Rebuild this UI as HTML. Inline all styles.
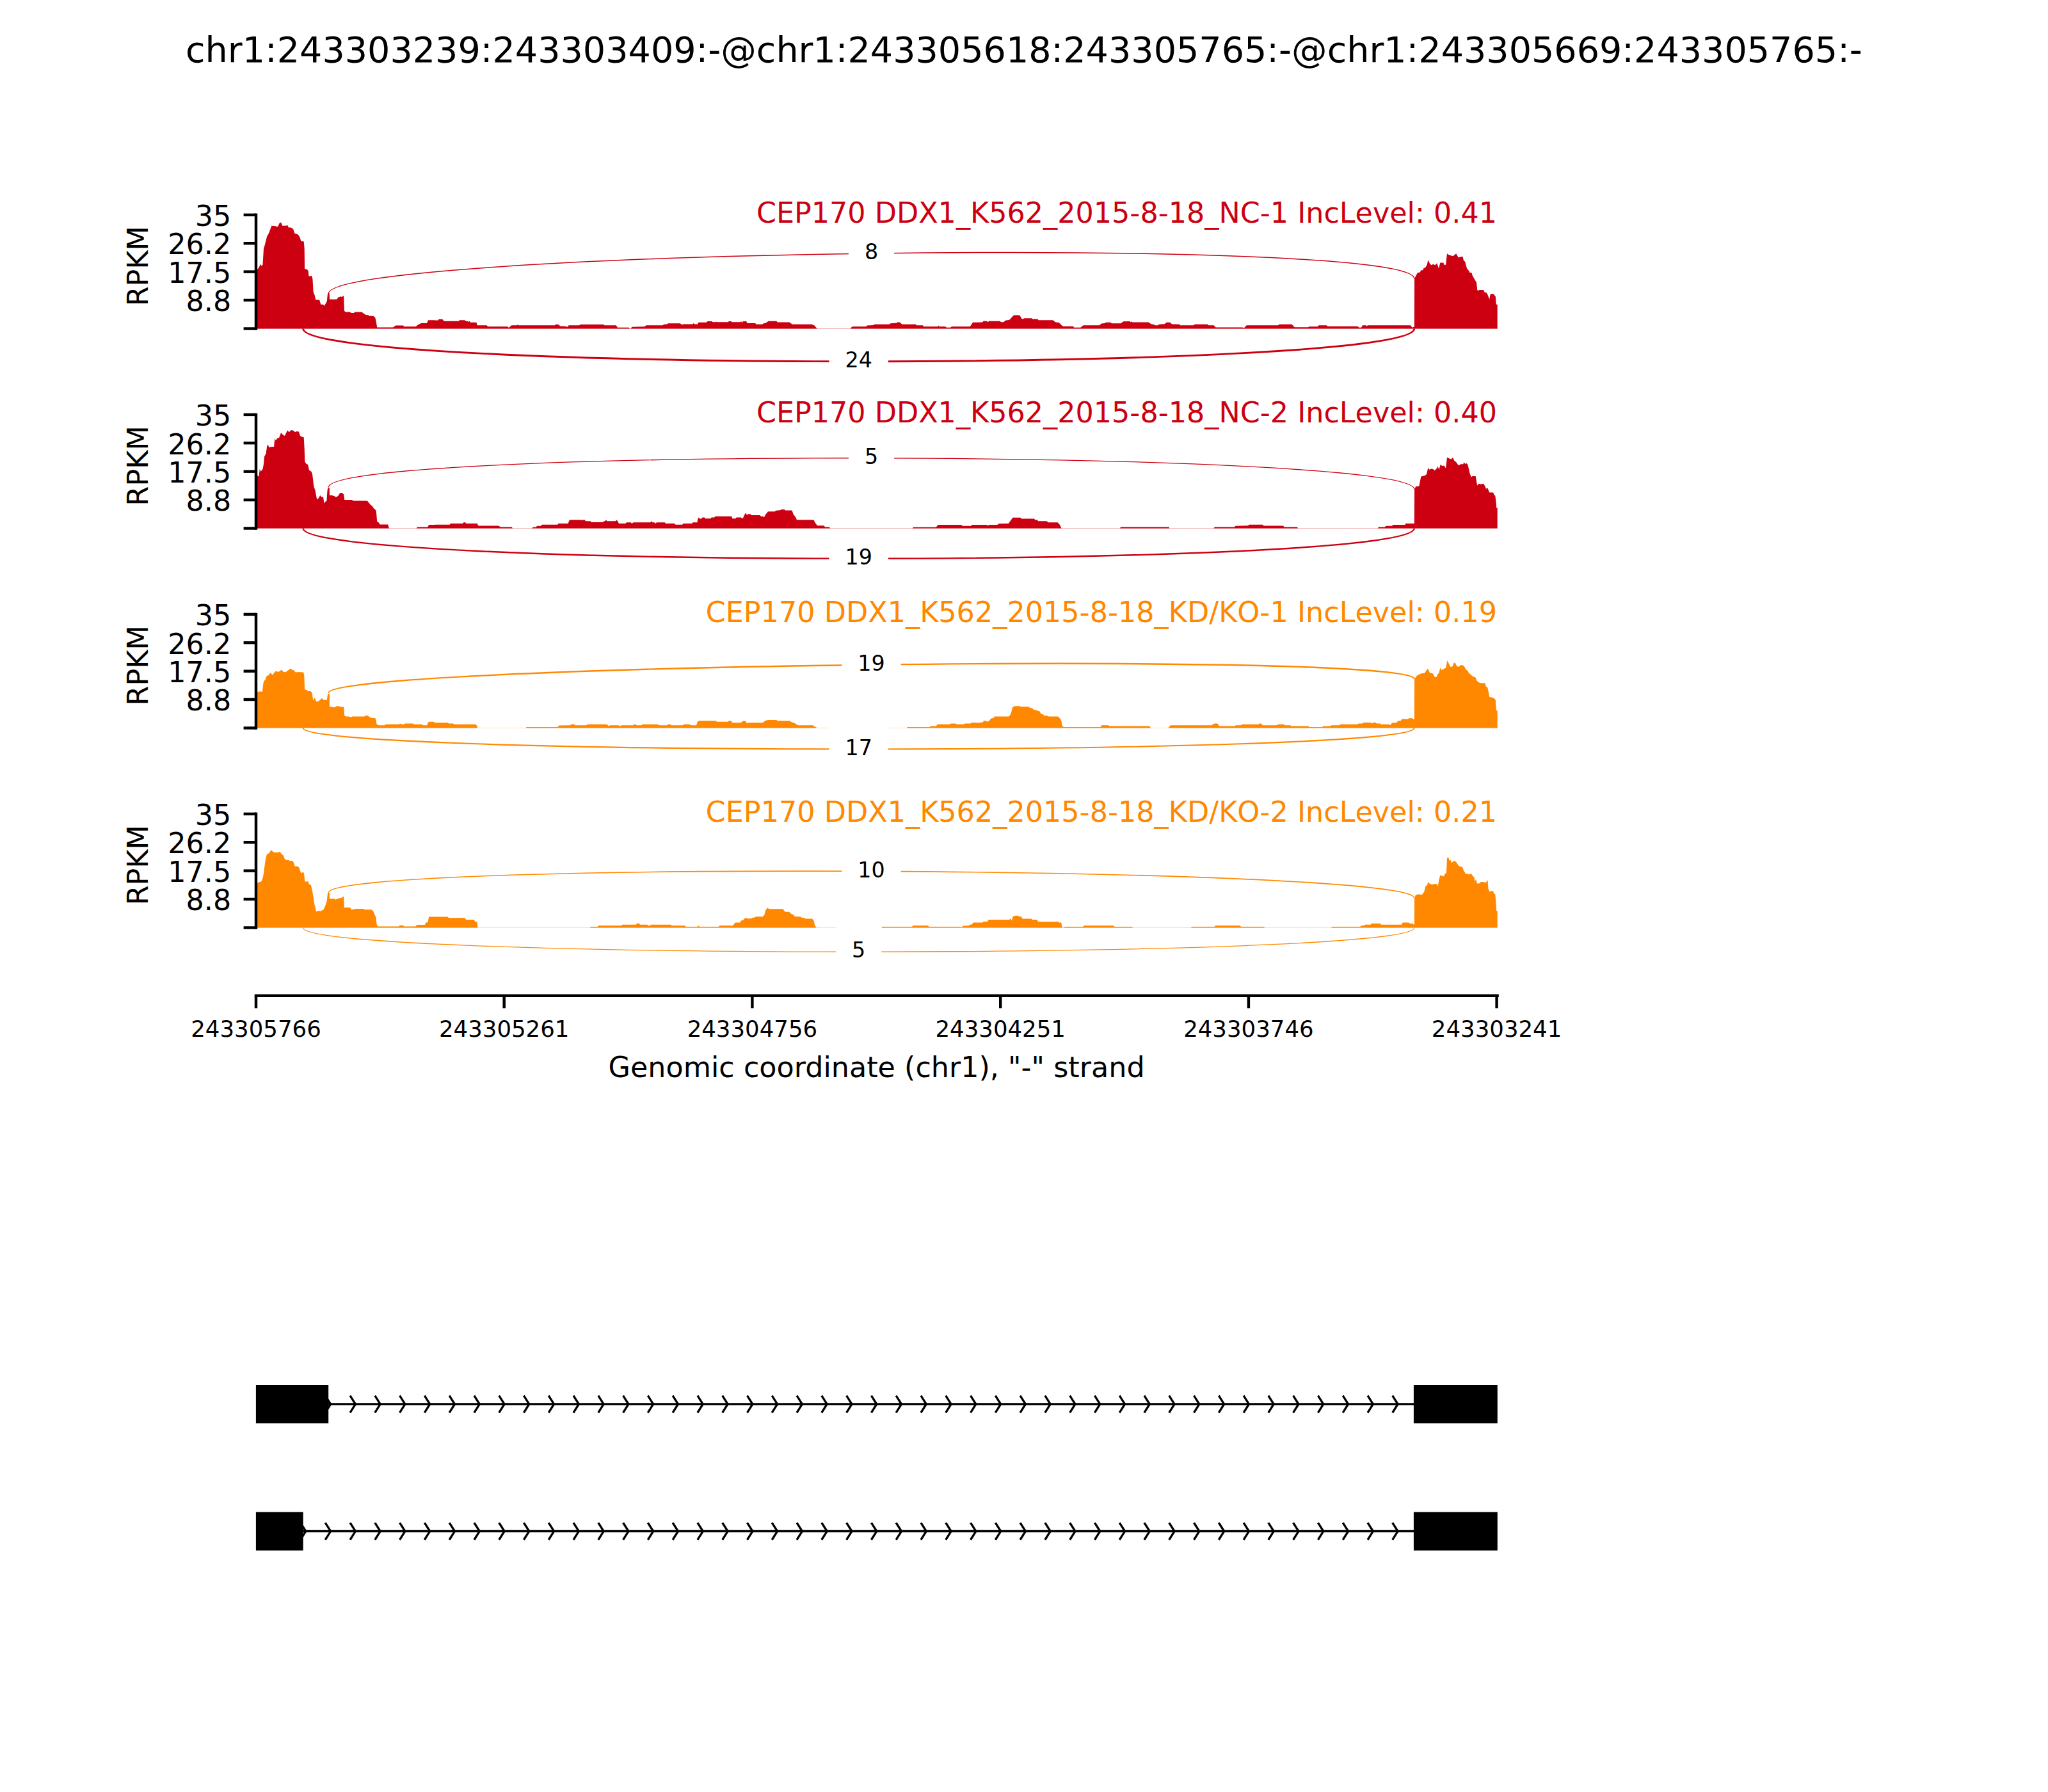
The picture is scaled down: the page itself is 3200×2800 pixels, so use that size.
<!DOCTYPE html>
<html lang="en"><head><meta charset="utf-8"><title>Sashimi plot</title>
<style>html,body{margin:0;padding:0;background:#fff;}svg{display:block;}text{font-family:"DejaVu Sans", "Liberation Sans", sans-serif;}</style>
</head><body>
<svg width="3200" height="2800" viewBox="0 0 3200 2800">
<rect width="3200" height="2800" fill="#fff"/>
<text x="1600" y="97.4" font-size="55.56" text-anchor="middle" fill="#000">chr1:243303239:243303409:-@chr1:243305618:243305765:-@chr1:243305669:243305765:-</text>
<g id="track1">
<path d="M400 513.5L400 423.8L404.6 417.9L406.8 412.8L409 415.7L410.5 413.5L412 388.6L414.2 381.3L417.1 369.6L420 364.4L424.4 352.7L428.8 353.1L433.9 354.2L436.9 348.3L439.1 347.6L441.3 352.7L445.7 352.7L449.3 352L450.8 355.6L454.5 355.6L458.1 357.8L460.3 364.4L464.7 365.9L467.6 368.8L470.6 376.9L474.7 377.2L475.7 388.6L476.1 420.1L479.4 420.8L481.6 423L482.6 431.8L486.7 430.8L488.4 435.5L489.6 456L491.8 461.8L493.3 468.4L499.1 468.4L501.3 475.8L505 475.8L506.5 477.9L509.4 473.6L510.9 470.2L511.6 462.2L512.3 458.2L514.8 458.2L515 467.7L526.2 467.7L528.4 464.8L532.1 463.3L534.3 464L537.2 461.8L537.9 485.3L539.4 487.5L546.7 487.5L548.9 488.9L552.6 488.9L554.8 487.5L565 487.5L571.6 491.9L575.3 492.3L577.5 493.8L583.4 493.8L586.3 496.3L587.8 502.9L589.2 511.6L614.1 511.6L618.5 508.4L630.2 508.4L631 510.2L650 510.2L652.2 508L658.1 505L666.9 505L669.1 500.2L679.3 500.2L680 500.5L684.5 500.5L685.5 498.8L691.2 498.8L693.8 501.8L717 501.8L718 500.2L726.2 500.2L728 501.8L731.2 501.8L732 503L733.8 501.8L735 503.8L744.5 503.8L745.5 508.2L760.5 508.2L762 510.2L793 510.2L795 512L797 510.2L799.5 508.2L807.5 508.2L808.8 507.2L810 508.2L867 508.2L868 507L872.5 507L875.5 509.5L884.5 510L886.2 511L888.8 508.2L905 508.2L907 507L943 507L944.5 508.2L962.5 508.2L965 511.8L982.5 511.8L984 513.5L985.5 513.5L987.5 510.8L1007.5 510.2L1009.5 508.2L1035.5 508.2L1037 507L1042.5 506.5L1043.8 505.2L1062.5 505.2L1066.2 507.5L1067.5 506.5L1082 506.5L1083.8 505L1085.5 506.5L1090 506.5L1091.2 503.8L1103.8 503.8L1105.5 502L1112 502L1113.8 503.2L1118 503.2L1119 502.5L1120 503.2L1137.5 503.2L1138.8 502L1142.5 502L1144 503.2L1157 503.2L1158 502L1159.5 504L1161.2 502L1166.2 502L1167.5 505L1180 505L1182 506.8L1191.8 506.8L1192 505.5L1195.8 505L1200.8 501.8L1213.2 501.8L1215 503.5L1233.2 503.5L1238.2 506.8L1268.2 506.8L1272.5 508.5L1275.8 512.5L1277 513.5L1329 513.5L1330.8 510.8L1333.2 510.2L1353.2 510.2L1355 508.5L1364.5 508L1366.5 506.8L1389.5 506.8L1391.5 505.2L1400.8 504.8L1402 503.5L1405.8 503.5L1409.5 506.8L1430.8 506.8L1432 508.2L1442 508.2L1443.2 510.2L1465.8 510.2L1466.5 508.2L1467.2 510.2L1477 510.2L1479 511.8L1485 511.8L1487 510.2L1515.8 510.2L1520 503.8L1535 503.5L1536.5 501.8L1542 501.8L1543.5 503.5L1545 501.8L1562.5 501.8L1564 503.2L1568.2 503.2L1571.5 500.5L1577 500L1584 492.5L1593.2 492.5L1597 498.8L1600.8 497.2L1612 497.2L1613.2 498.5L1621.5 498.5L1622.5 500.2L1645 500.2L1649.5 503.5L1654.5 504L1660.8 510L1677 510L1678.2 511.8L1688.2 511.8L1692.8 508.2L1703.8 508.2L1704 508.2L1717.8 508.2L1721 505.5L1726.5 505L1727.8 503.8L1735.2 503.8L1737 505.2L1751.5 505.2L1755.2 502.2L1765.2 502L1766.5 503.5L1767.8 502.2L1769.5 503.5L1794.5 503.5L1799 506.5L1802.8 507L1804.5 508.2L1809.5 508.2L1811 506.8L1819.5 506.2L1822.8 503.8L1827.8 503.8L1831.5 506.5L1842.8 506.8L1844 508.2L1865.2 508.2L1866.5 506.8L1886.5 506.8L1888.5 508.2L1896.5 508.2L1899.5 511.5L1941.5 511.5L1943.5 512.8L1947.8 508.2L1997 508.2L1999 506.8L2018.5 506.8L2022.8 511.2L2044 511.2L2045.5 510.2L2059 510.2L2060.5 508.2L2072.8 508.2L2074.5 510L2121.5 510L2123.5 511.8L2127 511.8L2129 508.2L2134.5 508.2L2135.5 510L2137 508.2L2204 508.2L2206.5 511.8L2209 510.8L2209.8 510.8L2209.9 511.6L2210.1 435.5L2213 429.6L2215.2 425.9L2218.8 425.5L2220.3 422.3L2223.2 422.3L2224.7 418.6L2226.9 418.6L2229.8 413.5L2231.3 406.2L2234.2 412L2236.4 414.2L2239.4 412.8L2242.3 414.2L2245.2 411.3L2248.1 419.4L2250.3 410.6L2255.5 410.6L2256.2 413.8L2259.1 413.8L2261 396.2L2263.5 398.1L2265.7 398.8L2270.1 400.3L2275.2 396.2L2278.9 402.5L2282.6 401L2285.5 401L2287 406.9L2289.2 409.1L2292.1 419.4L2295 423L2296.5 425.9L2299.4 425.9L2300.9 431.1L2305.3 438.4L2307 441.3L2308.2 453L2309.7 454.5L2311.1 453L2317.7 453L2319.9 456.7L2322.9 457.4L2325 461.8L2327.2 467.7L2328.7 459.6L2333.1 458.9L2334.9 461.1L2336.8 463.3L2337.8 475.8L2339.7 475.8L2339.7 513.5Z" fill="#CC0011"/>
<line x1="400" y1="513.5" x2="2339.7" y2="513.5" stroke="#CC0011" stroke-width="0.8" opacity="0.35"/>
<path d="M513.2 459 C513.2 390.7 2209.8 367.2 2209.8 435.5" fill="none" stroke="#CC0011" stroke-width="1.50"/>
<path d="M473.6 513.5 C473.6 581.8 2209.8 581.8 2209.8 513.5" fill="none" stroke="#CC0011" stroke-width="2.90"/>
<rect x="1325.9" y="355" width="71.2" height="82" fill="#fff"/>
<text x="1361.5" y="405.2" font-size="33.33" text-anchor="middle" fill="#000">8</text>
<rect x="1295.5" y="523.7" width="92.4" height="82" fill="#fff"/>
<text x="1341.7" y="573.9" font-size="33.33" text-anchor="middle" fill="#000">24</text>
<path d="M400 335.8 V513.5" stroke="#000" stroke-width="4.44" stroke-linecap="square" fill="none"/>
<path d="M380.6 335.8 H400" stroke="#000" stroke-width="4.44" fill="none"/>
<text x="361.2" y="353" font-size="44.44" text-anchor="end" fill="#000">35</text>
<path d="M380.6 380.2 H400" stroke="#000" stroke-width="4.44" fill="none"/>
<text x="361.2" y="397.4" font-size="44.44" text-anchor="end" fill="#000">26.2</text>
<path d="M380.6 424.6 H400" stroke="#000" stroke-width="4.44" fill="none"/>
<text x="361.2" y="441.8" font-size="44.44" text-anchor="end" fill="#000">17.5</text>
<path d="M380.6 469 H400" stroke="#000" stroke-width="4.44" fill="none"/>
<text x="361.2" y="486.2" font-size="44.44" text-anchor="end" fill="#000">8.8</text>
<path d="M380.6 513.5 H400" stroke="#000" stroke-width="4.44" fill="none"/>
<text transform="translate(231.3 415.7) rotate(-90)" font-size="44.44" text-anchor="middle" fill="#000">RPKM</text>
<text x="2339" y="348" font-size="44.44" text-anchor="end" fill="#CC0011" style="font-kerning:none" textLength="1157.1" lengthAdjust="spacing">CEP170 DDX1_K562_2015-8-18_NC-1 IncLevel: 0.41</text>
</g>
<g id="track2">
<path d="M400 825.5L400 741.1L404.4 744.7L405.8 733L407.6 736.7L410.5 733L412 725L413.1 713.2L415.6 708.8L417.1 697.9L418.6 694.2L420.5 699.3L423 698.3L428.1 697.9L429.3 685.4L431 688.3L433.2 684.7L436.1 683.9L439.1 675.9L441.3 678.8L444.9 681L449.3 672.2L451.5 675.2L455.2 671.9L458.8 673L461 675.2L463.2 674L466.9 674.4L469.1 681L471.3 682.5L474.7 683.2L475.7 701.5L476.4 721.3L478.6 725L481.1 725.7L483 734.5L486.4 736.7L488.1 741.1L490.3 760.1L492.5 766L495.2 780.6L497.7 778.4L500.2 774L502.8 777L505 776.2L506.5 786.5L508.7 783.6L510.4 782.8L510.9 774.3L511.6 766.3L512.3 762.3L514.8 762.3L515 774L518.9 774L523.3 775.5L524.8 777L528.4 774.8L531.4 770.1L534.3 770.1L537.2 772.6L538.2 780.9L550.4 780.9L551.1 782.4L573.8 782.4L579 788.7L581.9 790.9L584.1 794.5L587 796.7L588 801.1L589.2 815L591.9 816.5L593.6 819.4L606.1 819.4L608 825.5L650.7 825.5L652.2 823.4L668.3 823.4L670.1 819.9L679.3 819.9L680 819.8L702.5 819.8L704.2 818L723 818L724.5 816.2L727 816.2L728.5 818L745.5 818L747.5 821.5L779.5 821.5L781.5 823.5L799.5 823.5L801.2 825.5L831.2 825.5L832.5 823.8L837.5 823.8L839 821.8L845 821.8L847 819.8L871.2 819.8L872.5 818L887.5 818L890 812.2L908 812.2L909 813.2L910 812.2L913.8 812.2L915 814.2L922.5 814.2L923.8 816L942 816L944 814.2L945.5 814.2L947 812.2L948.5 814.2L962 814.2L963.5 812.2L965 814.2L967 818L977.5 818L978.8 816.2L985.5 816.2L987.5 818L989.5 816.2L1016.2 816.2L1018 814.2L1019.5 816.2L1022.5 816.2L1024 818L1026.2 816.2L1038.8 816.2L1040 818L1053.8 818L1055.5 819.8L1066.2 819.8L1067.5 818L1081.2 818L1082.5 816.2L1089.5 816.2L1090.5 810L1092 808.5L1093.8 810.8L1096.2 810.2L1097.5 808.5L1100.5 808.5L1102.5 810.2L1110.5 810.2L1111.5 808.5L1116.2 808.5L1117.5 806.8L1143 806.8L1144.5 810.2L1149.5 810.2L1150.5 808.5L1158 808.5L1159.5 810.2L1161.2 809L1163.8 803.2L1165.5 801.2L1167 805L1168.8 803.2L1172.5 803.2L1173.8 805L1187.5 805L1188.8 806.8L1191.8 806.8L1192 806.8L1194 808.2L1195.8 804.5L1200 799.2L1210.8 799.2L1212 797.8L1219 797.2L1220.8 796L1225.8 796L1227 797.5L1237.5 797.5L1239.5 803.2L1243.2 808.2L1245 812.2L1271.5 812.2L1273.2 816L1277 821.2L1287.5 821.2L1289 823.5L1295.8 823.5L1297 825.5L1425.8 825.5L1427 823.8L1462.5 823.8L1465.8 820L1502 820L1504 821.8L1517 821.8L1519 820L1542 820L1543.5 821.8L1545 820L1558.2 820L1560.8 818.2L1575.8 818L1582.5 808.8L1594.5 808.8L1596 810.5L1615.8 810.5L1617.5 812.2L1620.8 812.2L1622 814.2L1635.8 814.2L1637.5 816.2L1652.5 816.2L1655.8 819.8L1658.5 825.5L1703.8 825.5L1704 825.5L1750.2 825.5L1751 823.5L1826.5 823.5L1827.2 825.5L1896.5 825.5L1897.8 823.5L1929 823.5L1930.2 821.8L1950.2 821.2L1951.5 819.8L1972.8 819.8L1974.5 821.5L2005.2 821.5L2006.5 823.5L2027 823.5L2028 825.5L2152.8 825.5L2154 823.5L2164 823.5L2165.2 821.8L2175.2 821.8L2176.5 820L2195.2 820L2196.5 818L2209.8 818L2209.9 818L2210.1 764.5L2212.3 760.1L2215.2 760.1L2217.4 759.4L2220.3 744.7L2222.5 744L2226.2 743.3L2229.1 741.1L2231.3 731.1L2233.5 733.8L2236.4 732.6L2239.4 733L2241.6 735.2L2245.2 731.6L2246.7 728.6L2248.4 733.8L2250.8 725.7L2253.3 727.9L2256.2 727.6L2259.1 731.6L2261 714.7L2264.3 716.2L2267.2 717.6L2270.1 715L2272.3 719.8L2275.2 722L2278.9 727.2L2282.6 725.3L2286.2 725.3L2287.7 722L2289.2 725L2291.4 723.8L2293.6 726.4L2296.5 739.6L2298.7 745.2L2300.9 744L2305.6 744L2308.2 758.7L2310.4 755.7L2313.3 756.5L2317.7 755.7L2319.9 758.7L2322.1 763.8L2324.3 762.3L2327.2 769.6L2333.1 769.6L2334.6 773.3L2336.3 774.8L2337.5 783.6L2338.2 793.8L2339.7 793.8L2339.7 825.5Z" fill="#CC0011"/>
<line x1="400" y1="825.5" x2="2339.7" y2="825.5" stroke="#CC0011" stroke-width="0.8" opacity="0.35"/>
<path d="M513.2 761.6 C513.2 698.6 2209.8 701.5 2209.8 764.5" fill="none" stroke="#CC0011" stroke-width="1.30"/>
<path d="M473.6 825.5 C473.6 888.5 2209.8 888.5 2209.8 825.5" fill="none" stroke="#CC0011" stroke-width="2.40"/>
<rect x="1325.9" y="674.8" width="71.2" height="82" fill="#fff"/>
<text x="1361.5" y="725" font-size="33.33" text-anchor="middle" fill="#000">5</text>
<rect x="1295.5" y="831.7" width="92.4" height="82" fill="#fff"/>
<text x="1341.7" y="881.9" font-size="33.33" text-anchor="middle" fill="#000">19</text>
<path d="M400 647.9 V825.5" stroke="#000" stroke-width="4.44" stroke-linecap="square" fill="none"/>
<path d="M380.6 647.9 H400" stroke="#000" stroke-width="4.44" fill="none"/>
<text x="361.2" y="665.1" font-size="44.44" text-anchor="end" fill="#000">35</text>
<path d="M380.6 692.2 H400" stroke="#000" stroke-width="4.44" fill="none"/>
<text x="361.2" y="709.5" font-size="44.44" text-anchor="end" fill="#000">26.2</text>
<path d="M380.6 736.7 H400" stroke="#000" stroke-width="4.44" fill="none"/>
<text x="361.2" y="753.9" font-size="44.44" text-anchor="end" fill="#000">17.5</text>
<path d="M380.6 781.1 H400" stroke="#000" stroke-width="4.44" fill="none"/>
<text x="361.2" y="798.3" font-size="44.44" text-anchor="end" fill="#000">8.8</text>
<path d="M380.6 825.5 H400" stroke="#000" stroke-width="4.44" fill="none"/>
<text transform="translate(231.3 727.8) rotate(-90)" font-size="44.44" text-anchor="middle" fill="#000">RPKM</text>
<text x="2339" y="660.1" font-size="44.44" text-anchor="end" fill="#CC0011" style="font-kerning:none" textLength="1157.1" lengthAdjust="spacing">CEP170 DDX1_K562_2015-8-18_NC-2 IncLevel: 0.40</text>
</g>
<g id="track3">
<path d="M400 1137.5L400 1081.6L406.8 1080.2L409.8 1080.9L411.2 1069.2L412.3 1064.1L414.2 1062.6L416.7 1056.3L419.3 1055.3L422.5 1051.3L425.9 1054.5L429.6 1049.4L431.7 1048.4L434.7 1049.9L436.9 1048.7L439.8 1046.5L442.7 1049.4L445.7 1050.4L450.1 1047.5L454.5 1044.3L456.7 1047.2L458.8 1046.9L461.8 1050.4L467.6 1050.1L471.3 1050.4L473.8 1049.9L475.3 1054.5L476.1 1077.2L479.4 1078.3L481.6 1080.2L483.8 1079.4L486.7 1080.9L487.9 1084.6L489.3 1094.4L491.8 1089.7L494 1096.3L497.7 1095.8L502.8 1090.9L505.7 1093.4L509.4 1093.8L510.9 1093.8L511.6 1087.8L512.3 1083.8L514.8 1083.8L515 1104.6L518.9 1104.6L521.8 1105.5L526.2 1103.2L529.9 1103.2L531.4 1104.6L537.2 1104.6L538.2 1118.3L540.9 1119.4L545.3 1119.4L548.2 1120.8L550.4 1119.4L569.4 1119.4L570.2 1118.3L574.9 1118.3L577.5 1120.5L581.9 1121.9L586.3 1121.9L587.8 1126.3L588.5 1131.4L592.1 1133.2L600.9 1133.2L602.1 1131.7L623.6 1131.7L625.1 1130.4L627 1131.7L631.7 1131.7L632.9 1130.4L645.6 1130.4L646.6 1131.7L659.5 1131.7L660.7 1133.2L666.9 1133.2L669.8 1127.8L677.8 1127.8L678.9 1129L679.3 1129L680 1129.2L700 1129.2L701.2 1130.5L708 1130.5L709.5 1131.8L743 1131.8L745 1133.5L746.2 1137.5L822 1137.5L822.5 1136L871.2 1136L873.8 1133.5L891.2 1133.2L892.5 1131.8L897.5 1131.8L898.8 1133.2L916.2 1133.2L918 1131.8L948 1131.8L950 1133.2L951.5 1134.8L953 1133.2L967 1133.2L968.8 1134.8L971.2 1133.2L989.5 1133.2L990.5 1131.8L993 1131.8L994.5 1133.2L1002.5 1133.2L1003.8 1131.8L1028 1131.8L1029.5 1133.2L1042.5 1133.2L1044 1131.8L1047.5 1131.8L1049 1133.2L1067 1133.2L1068.5 1131.8L1078 1131.8L1079.5 1133.2L1088 1133.2L1090 1127.8L1092 1126.2L1118.8 1126.2L1120 1127.8L1137.5 1127.8L1138.8 1126.2L1142.5 1126.2L1144 1129.2L1157.5 1129.2L1159.5 1127.8L1161.2 1126.5L1165 1126.5L1167 1130.2L1170 1129.2L1191.8 1129.2L1192 1129.2L1195 1126.5L1199.5 1125L1213.2 1125L1215 1126.2L1234 1126.2L1235.8 1127.8L1242 1130.2L1247 1133.2L1270 1133.2L1272 1134.8L1275.8 1136.8L1277 1137.5L1417 1137.5L1417.5 1136L1452.5 1136L1454 1134.5L1462.5 1134.5L1465 1131.8L1484 1131.8L1485.8 1130.5L1493.2 1130.5L1494.5 1131.8L1505.8 1131.8L1507 1130.5L1516.5 1130.5L1518 1129L1530 1129.5L1531.5 1129L1535.8 1128.5L1537 1126.2L1540.8 1126.2L1542 1127.8L1545.8 1126.5L1548.2 1122.8L1552 1122L1554 1119.5L1576.5 1119.5L1579.5 1115.2L1582 1105.2L1585 1103.2L1593.2 1103.2L1595 1104.2L1607 1104.2L1609 1105.8L1613.2 1106.8L1614.5 1108.5L1620.8 1110.2L1624.5 1111.5L1626.5 1115.2L1629.5 1116L1631.5 1118L1637 1118.5L1638.5 1119.5L1653.2 1119.5L1656.5 1122.8L1658.5 1126.5L1659.5 1134.5L1662.5 1136L1703.8 1136L1704 1136L1719.5 1136L1721 1133.2L1732 1133.2L1733.5 1134.5L1796.5 1134.5L1797.8 1137.5L1825.2 1137.5L1826.5 1136L1829 1133.2L1893.5 1133.2L1895.2 1131.8L1897.8 1130.5L1902 1130.5L1903.5 1131.8L1905.2 1134.5L1929 1134.5L1931 1133.2L1939 1133.2L1941 1131.8L1966.5 1131.8L1968 1130.5L1970.5 1130.5L1972.8 1133.2L1995.2 1133.2L1997 1131.8L2006 1131.8L2007.8 1133.2L2016 1133.2L2017.8 1134.5L2044 1134.5L2045.5 1136L2066 1136L2067.8 1134.5L2072.8 1135L2074 1134.5L2079 1134.5L2080.5 1133.2L2092.8 1133.2L2094.5 1131.8L2121 1131.8L2122.8 1130.5L2129 1130.5L2130.5 1129L2142 1129L2144 1130.5L2146 1129L2149.5 1129L2151 1130.5L2156.5 1130.5L2158 1131.8L2170.2 1131.8L2172 1133.2L2175.2 1129.5L2182.8 1129L2184 1126.5L2189 1126L2190.2 1123.5L2200.2 1123.5L2201.5 1122.2L2207 1122.2L2208.5 1124L2209.8 1124L2209.9 1122.7L2210.1 1061.1L2213 1056.7L2214.5 1055.3L2216.7 1054.5L2218.8 1053.1L2221.8 1052.3L2226.2 1051.6L2229.8 1045.8L2231.3 1045L2234.2 1051.6L2237.2 1051.6L2239.4 1053.1L2241.6 1057.8L2244.5 1057.8L2246.7 1053.1L2248.4 1051.6L2250.3 1043.6L2252.5 1046.9L2256.2 1045L2259.1 1043.6L2261.3 1032.3L2264.3 1037.7L2266.5 1042.1L2269.4 1041.4L2271.6 1035.5L2273.8 1035.8L2276 1040.6L2278.9 1042.1L2282.6 1039.2L2285.5 1039.2L2288.4 1042.1L2290.6 1046.5L2292.8 1047.2L2295 1051.6L2297.9 1053.8L2300.9 1056.7L2305.3 1058.2L2307.5 1063.6L2310.4 1066.3L2314.8 1067.4L2319.9 1067L2322.1 1072.8L2324.3 1074.3L2325.8 1080.9L2327.2 1089L2331.6 1089.7L2334.6 1091.2L2336.8 1093.4L2337.8 1109.5L2339.7 1110.9L2339.7 1137.5Z" fill="#FF8800"/>
<line x1="400" y1="1137.5" x2="2339.7" y2="1137.5" stroke="#FF8800" stroke-width="0.8" opacity="0.35"/>
<path d="M513.2 1082.6 C513.2 1038.5 2209.8 1016.9 2209.8 1061" fill="none" stroke="#FF8800" stroke-width="2.40"/>
<path d="M473.6 1137.5 C473.6 1181.5 2209.8 1181.5 2209.8 1137.5" fill="none" stroke="#FF8800" stroke-width="2.20"/>
<rect x="1315.3" y="997.7" width="92.4" height="82" fill="#fff"/>
<text x="1361.5" y="1047.9" font-size="33.33" text-anchor="middle" fill="#000">19</text>
<rect x="1295.5" y="1129.5" width="92.4" height="82" fill="#fff"/>
<text x="1341.7" y="1179.7" font-size="33.33" text-anchor="middle" fill="#000">17</text>
<path d="M400 959.9 V1137.5" stroke="#000" stroke-width="4.44" stroke-linecap="square" fill="none"/>
<path d="M380.6 959.9 H400" stroke="#000" stroke-width="4.44" fill="none"/>
<text x="361.2" y="977.1" font-size="44.44" text-anchor="end" fill="#000">35</text>
<path d="M380.6 1004.2 H400" stroke="#000" stroke-width="4.44" fill="none"/>
<text x="361.2" y="1021.5" font-size="44.44" text-anchor="end" fill="#000">26.2</text>
<path d="M380.6 1048.7 H400" stroke="#000" stroke-width="4.44" fill="none"/>
<text x="361.2" y="1065.9" font-size="44.44" text-anchor="end" fill="#000">17.5</text>
<path d="M380.6 1093 H400" stroke="#000" stroke-width="4.44" fill="none"/>
<text x="361.2" y="1110.2" font-size="44.44" text-anchor="end" fill="#000">8.8</text>
<path d="M380.6 1137.5 H400" stroke="#000" stroke-width="4.44" fill="none"/>
<text transform="translate(231.3 1039.8) rotate(-90)" font-size="44.44" text-anchor="middle" fill="#000">RPKM</text>
<text x="2339" y="972.1" font-size="44.44" text-anchor="end" fill="#FF8800" style="font-kerning:none" textLength="1236.3" lengthAdjust="spacing">CEP170 DDX1_K562_2015-8-18_KD/KO-1 IncLevel: 0.19</text>
</g>
<g id="track4">
<path d="M400 1449.5L400 1381.2L405.4 1378L408.3 1377.5L410.5 1371.7L412 1365.1L413.4 1353.4L415.2 1341.6L417.1 1334.6L420 1333.6L422.2 1329.9L424.4 1328.5L426.6 1331.1L429.6 1332.1L433.9 1332.1L436.1 1331.1L438.3 1332.1L440.5 1335L442.7 1336.5L444.5 1341.6L447.1 1343.8L450.1 1343.8L453 1344.9L457.1 1344.9L458.8 1347.8L460.6 1353.6L464.7 1353.6L467.3 1355.6L469.8 1362.9L471.3 1364.3L473.8 1362.1L475.3 1366.5L476.4 1377.5L480.1 1377.5L481.6 1376.5L482.6 1381.2L485.9 1382.9L487.9 1391.4L489.6 1401.7L491.1 1411.9L492.5 1417.1L494 1424.4L496.9 1422.9L501.3 1423.4L505.7 1421L508.7 1414.1L510.9 1407.1L511.6 1399.1L512.3 1395.1L514.8 1395.1L515 1404.3L517.4 1404.3L522.6 1404.3L524 1405.8L527 1404.3L531.4 1403.2L534.3 1402.4L537.2 1400.2L537.9 1418.1L547.5 1418.1L548.5 1421L554.1 1421L554.8 1420L568 1420L569 1421.2L580.4 1421.2L583.4 1423.7L585.6 1429.5L587.5 1433.2L588.5 1443.4L590 1447.4L623.6 1447.4L624.4 1446.1L630.2 1446.1L631 1447.4L649.3 1447.4L651.5 1444.9L663.9 1444.9L665.4 1441.5L668.3 1441.2L670.1 1432.5L679.3 1432.5L680 1432.5L699.5 1432.5L701.2 1434.2L726.2 1434.2L728 1437L741 1437L742 1440L745.5 1440L746.5 1449.5L922 1449.5L923 1448L933.8 1448L935 1446.2L971.2 1446.2L972.5 1444.8L993.8 1444.8L995 1443L998.8 1443L1000 1444.8L1011.2 1444.8L1013 1446.2L1015.5 1446.2L1017 1444.8L1048 1444.8L1049.5 1446.2L1070 1446.2L1071.5 1448L1090 1448L1091.2 1446.2L1093 1448L1123 1448L1124.5 1446.2L1145.5 1446.2L1147.5 1443L1149.5 1441.5L1156.2 1441.5L1158 1438.5L1161.2 1437.8L1163 1435.5L1165.5 1434L1167.5 1435.2L1173.8 1435.2L1175 1434L1179.5 1433.5L1180.8 1432.2L1191.8 1432.2L1192 1432.2L1194.5 1429L1196.5 1421.5L1199.5 1418.5L1201.5 1420.2L1223.2 1420.2L1225.8 1423.5L1227 1424.8L1233.2 1424.8L1235.8 1427.8L1239.5 1429L1242 1432.2L1250.8 1432.2L1252.5 1433.8L1257 1434.2L1258.2 1435.5L1269 1435.5L1271.5 1438.5L1273.2 1446L1275.8 1449.5L1377.5 1449.5L1378.2 1448L1425 1448L1426.5 1446.2L1450 1446.2L1451.5 1448L1502 1448L1503 1449.5L1504 1446.8L1514 1446.2L1515.8 1444.8L1519 1444.2L1520.5 1441.5L1535 1441.5L1536.5 1440L1542.5 1440L1545 1437L1577 1437L1579 1435.2L1581 1438.5L1582.5 1432.2L1585.8 1430.8L1590.8 1430.8L1592.5 1432.2L1596 1432.2L1597.5 1435.5L1611.5 1435.5L1613 1437L1620 1437L1622.5 1440.2L1653.2 1440.2L1655 1441.5L1658.2 1441.5L1659.5 1448.5L1661.5 1449.5L1664 1448L1692 1448L1694 1446.2L1703.8 1446.2L1704 1446.2L1740.2 1446.2L1741.5 1448L1769 1448L1770 1449.5L1861 1449.5L1862 1448L1897.8 1448L1899 1446.2L1937.8 1446.2L1939 1448L1975.2 1448L1976 1449.5L2080.2 1449.5L2081 1448L2125.2 1448L2127 1446.2L2131.5 1446.2L2133 1444.8L2141.5 1444.8L2143 1443L2156.5 1443L2158 1444.8L2190.2 1444.8L2191.5 1441.5L2201 1441.5L2202.8 1443L2207.8 1443L2209 1444.8L2209.8 1444.8L2209.9 1444.5L2210.1 1403.2L2212.3 1398L2218.1 1397.3L2219.6 1398L2222.5 1397.6L2225.4 1392.9L2227.6 1384.1L2229.8 1383.4L2231.3 1378L2233.5 1380.5L2237.2 1381.9L2242.3 1380.9L2245.2 1381.2L2246.7 1384.8L2248.4 1375.3L2250.3 1367.3L2252.5 1368.7L2254.7 1368.3L2256.2 1369.5L2257.7 1365.1L2259.9 1364.3L2261 1340.2L2263.5 1340.2L2264.6 1344.6L2266.5 1343.8L2267.9 1348.2L2271.6 1345.3L2274.5 1346L2276.7 1349L2278.9 1352.6L2281.8 1354.1L2284.8 1354.5L2287 1359.9L2289.9 1365.1L2294.3 1365.8L2296.5 1366.2L2298.7 1365.1L2300.9 1368.3L2303.5 1370.9L2304.5 1377.5L2306 1373.6L2307.9 1380.5L2311.1 1380.5L2314.1 1378L2318.5 1378L2319.9 1379L2322.6 1378.3L2323.6 1374.6L2324.6 1376.8L2325.5 1388.5L2327.2 1392.9L2330.2 1392.2L2333.1 1392.2L2334.3 1396.6L2336.3 1397.3L2337.5 1410.5L2338.2 1422.9L2339.7 1423.7L2339.7 1449.5Z" fill="#FF8800"/>
<line x1="400" y1="1449.5" x2="2339.7" y2="1449.5" stroke="#FF8800" stroke-width="0.8" opacity="0.35"/>
<path d="M513.2 1395 C513.2 1344.7 2209.8 1352.9 2209.8 1403.2" fill="none" stroke="#FF8800" stroke-width="1.60"/>
<path d="M473.6 1449.5 C473.6 1499.8 2209.8 1499.8 2209.8 1449.5" fill="none" stroke="#FF8800" stroke-width="1.30"/>
<rect x="1315.3" y="1320.4" width="92.4" height="82" fill="#fff"/>
<text x="1361.5" y="1370.6" font-size="33.33" text-anchor="middle" fill="#000">10</text>
<rect x="1306.1" y="1446.2" width="71.2" height="82" fill="#fff"/>
<text x="1341.7" y="1496.4" font-size="33.33" text-anchor="middle" fill="#000">5</text>
<path d="M400 1271.8 V1449.5" stroke="#000" stroke-width="4.44" stroke-linecap="square" fill="none"/>
<path d="M380.6 1271.8 H400" stroke="#000" stroke-width="4.44" fill="none"/>
<text x="361.2" y="1289" font-size="44.44" text-anchor="end" fill="#000">35</text>
<path d="M380.6 1316.2 H400" stroke="#000" stroke-width="4.44" fill="none"/>
<text x="361.2" y="1333.4" font-size="44.44" text-anchor="end" fill="#000">26.2</text>
<path d="M380.6 1360.6 H400" stroke="#000" stroke-width="4.44" fill="none"/>
<text x="361.2" y="1377.8" font-size="44.44" text-anchor="end" fill="#000">17.5</text>
<path d="M380.6 1405 H400" stroke="#000" stroke-width="4.44" fill="none"/>
<text x="361.2" y="1422.2" font-size="44.44" text-anchor="end" fill="#000">8.8</text>
<path d="M380.6 1449.5 H400" stroke="#000" stroke-width="4.44" fill="none"/>
<text transform="translate(231.3 1351.7) rotate(-90)" font-size="44.44" text-anchor="middle" fill="#000">RPKM</text>
<text x="2339" y="1284" font-size="44.44" text-anchor="end" fill="#FF8800" style="font-kerning:none" textLength="1236.3" lengthAdjust="spacing">CEP170 DDX1_K562_2015-8-18_KD/KO-2 IncLevel: 0.21</text>
</g>
<g id="xaxis">
<path d="M400 1555.8 H2339.6" stroke="#000" stroke-width="4.44" stroke-linecap="square" fill="none"/>
<path d="M400 1555.8 V1575.3" stroke="#000" stroke-width="4.44" fill="none"/>
<text x="400" y="1620.4" font-size="35.56" text-anchor="middle" fill="#000">243305766</text>
<path d="M787.7 1555.8 V1575.3" stroke="#000" stroke-width="4.44" fill="none"/>
<text x="787.7" y="1620.4" font-size="35.56" text-anchor="middle" fill="#000">243305261</text>
<path d="M1175.4 1555.8 V1575.3" stroke="#000" stroke-width="4.44" fill="none"/>
<text x="1175.4" y="1620.4" font-size="35.56" text-anchor="middle" fill="#000">243304756</text>
<path d="M1563.2 1555.8 V1575.3" stroke="#000" stroke-width="4.44" fill="none"/>
<text x="1563.2" y="1620.4" font-size="35.56" text-anchor="middle" fill="#000">243304251</text>
<path d="M1950.9 1555.8 V1575.3" stroke="#000" stroke-width="4.44" fill="none"/>
<text x="1950.9" y="1620.4" font-size="35.56" text-anchor="middle" fill="#000">243303746</text>
<path d="M2338.6 1555.8 V1575.3" stroke="#000" stroke-width="4.44" fill="none"/>
<text x="2338.6" y="1620.4" font-size="35.56" text-anchor="middle" fill="#000">243303241</text>
<text x="1369.6" y="1682.8" font-size="44.44" text-anchor="middle" fill="#000">Genomic coordinate (chr1), "-" strand</text>
</g>
<g id="isoforms">
<path d="M511.2 2193.9 H2212" stroke="#000" stroke-width="3.4" fill="none"/>
<path d="M509.1 2182.1L516.6 2194L509.1 2205.9M547.9 2182.1L555.4 2194L547.9 2205.9M586.7 2182.1L594.2 2194L586.7 2205.9M625.4 2182.1L632.9 2194L625.4 2205.9M664.2 2182.1L671.7 2194L664.2 2205.9M703 2182.1L710.5 2194L703 2205.9M741.8 2182.1L749.3 2194L741.8 2205.9M780.6 2182.1L788.1 2194L780.6 2205.9M819.3 2182.1L826.8 2194L819.3 2205.9M858.1 2182.1L865.6 2194L858.1 2205.9M896.9 2182.1L904.4 2194L896.9 2205.9M935.7 2182.1L943.2 2194L935.7 2205.9M974.5 2182.1L982 2194L974.5 2205.9M1013.2 2182.1L1020.7 2194L1013.2 2205.9M1052 2182.1L1059.5 2194L1052 2205.9M1090.8 2182.1L1098.3 2194L1090.8 2205.9M1129.6 2182.1L1137.1 2194L1129.6 2205.9M1168.4 2182.1L1175.9 2194L1168.4 2205.9M1207.1 2182.1L1214.6 2194L1207.1 2205.9M1245.9 2182.1L1253.4 2194L1245.9 2205.9M1284.7 2182.1L1292.2 2194L1284.7 2205.9M1323.5 2182.1L1331 2194L1323.5 2205.9M1362.3 2182.1L1369.8 2194L1362.3 2205.9M1401 2182.1L1408.5 2194L1401 2205.9M1439.8 2182.1L1447.3 2194L1439.8 2205.9M1478.6 2182.1L1486.1 2194L1478.6 2205.9M1517.4 2182.1L1524.9 2194L1517.4 2205.9M1556.2 2182.1L1563.7 2194L1556.2 2205.9M1594.9 2182.1L1602.4 2194L1594.9 2205.9M1633.7 2182.1L1641.2 2194L1633.7 2205.9M1672.5 2182.1L1680 2194L1672.5 2205.9M1711.3 2182.1L1718.8 2194L1711.3 2205.9M1750.1 2182.1L1757.6 2194L1750.1 2205.9M1788.8 2182.1L1796.3 2194L1788.8 2205.9M1827.6 2182.1L1835.1 2194L1827.6 2205.9M1866.4 2182.1L1873.9 2194L1866.4 2205.9M1905.2 2182.1L1912.7 2194L1905.2 2205.9M1944 2182.1L1951.5 2194L1944 2205.9M1982.7 2182.1L1990.2 2194L1982.7 2205.9M2021.5 2182.1L2029 2194L2021.5 2205.9M2060.3 2182.1L2067.8 2194L2060.3 2205.9M2099.1 2182.1L2106.6 2194L2099.1 2205.9M2137.9 2182.1L2145.4 2194L2137.9 2205.9M2176.6 2182.1L2184.1 2194L2176.6 2205.9" stroke="#000" stroke-width="3.3" stroke-linecap="square" stroke-linejoin="miter" fill="none"/>
<rect x="399.9" y="2164" width="113.3" height="60" fill="#000"/>
<rect x="2208.9" y="2164" width="130.9" height="60" fill="#000"/>
<path d="M471.7 2392.5 H2212" stroke="#000" stroke-width="3.4" fill="none"/>
<path d="M470.3 2380.7L477.8 2392.6L470.3 2404.5M509.1 2380.7L516.6 2392.6L509.1 2404.5M547.9 2380.7L555.4 2392.6L547.9 2404.5M586.7 2380.7L594.2 2392.6L586.7 2404.5M625.4 2380.7L632.9 2392.6L625.4 2404.5M664.2 2380.7L671.7 2392.6L664.2 2404.5M703 2380.7L710.5 2392.6L703 2404.5M741.8 2380.7L749.3 2392.6L741.8 2404.5M780.6 2380.7L788.1 2392.6L780.6 2404.5M819.3 2380.7L826.8 2392.6L819.3 2404.5M858.1 2380.7L865.6 2392.6L858.1 2404.5M896.9 2380.7L904.4 2392.6L896.9 2404.5M935.7 2380.7L943.2 2392.6L935.7 2404.5M974.5 2380.7L982 2392.6L974.5 2404.5M1013.2 2380.7L1020.7 2392.6L1013.2 2404.5M1052 2380.7L1059.5 2392.6L1052 2404.5M1090.8 2380.7L1098.3 2392.6L1090.8 2404.5M1129.6 2380.7L1137.1 2392.6L1129.6 2404.5M1168.4 2380.7L1175.9 2392.6L1168.4 2404.5M1207.1 2380.7L1214.6 2392.6L1207.1 2404.5M1245.9 2380.7L1253.4 2392.6L1245.9 2404.5M1284.7 2380.7L1292.2 2392.6L1284.7 2404.5M1323.5 2380.7L1331 2392.6L1323.5 2404.5M1362.3 2380.7L1369.8 2392.6L1362.3 2404.5M1401 2380.7L1408.5 2392.6L1401 2404.5M1439.8 2380.7L1447.3 2392.6L1439.8 2404.5M1478.6 2380.7L1486.1 2392.6L1478.6 2404.5M1517.4 2380.7L1524.9 2392.6L1517.4 2404.5M1556.2 2380.7L1563.7 2392.6L1556.2 2404.5M1594.9 2380.7L1602.4 2392.6L1594.9 2404.5M1633.7 2380.7L1641.2 2392.6L1633.7 2404.5M1672.5 2380.7L1680 2392.6L1672.5 2404.5M1711.3 2380.7L1718.8 2392.6L1711.3 2404.5M1750.1 2380.7L1757.6 2392.6L1750.1 2404.5M1788.8 2380.7L1796.3 2392.6L1788.8 2404.5M1827.6 2380.7L1835.1 2392.6L1827.6 2404.5M1866.4 2380.7L1873.9 2392.6L1866.4 2404.5M1905.2 2380.7L1912.7 2392.6L1905.2 2404.5M1944 2380.7L1951.5 2392.6L1944 2404.5M1982.7 2380.7L1990.2 2392.6L1982.7 2404.5M2021.5 2380.7L2029 2392.6L2021.5 2404.5M2060.3 2380.7L2067.8 2392.6L2060.3 2404.5M2099.1 2380.7L2106.6 2392.6L2099.1 2404.5M2137.9 2380.7L2145.4 2392.6L2137.9 2404.5M2176.6 2380.7L2184.1 2392.6L2176.6 2404.5" stroke="#000" stroke-width="3.3" stroke-linecap="square" stroke-linejoin="miter" fill="none"/>
<rect x="399.9" y="2362.6" width="73.8" height="60" fill="#000"/>
<rect x="2208.9" y="2362.6" width="130.9" height="60" fill="#000"/>
</g>
</svg></body></html>
